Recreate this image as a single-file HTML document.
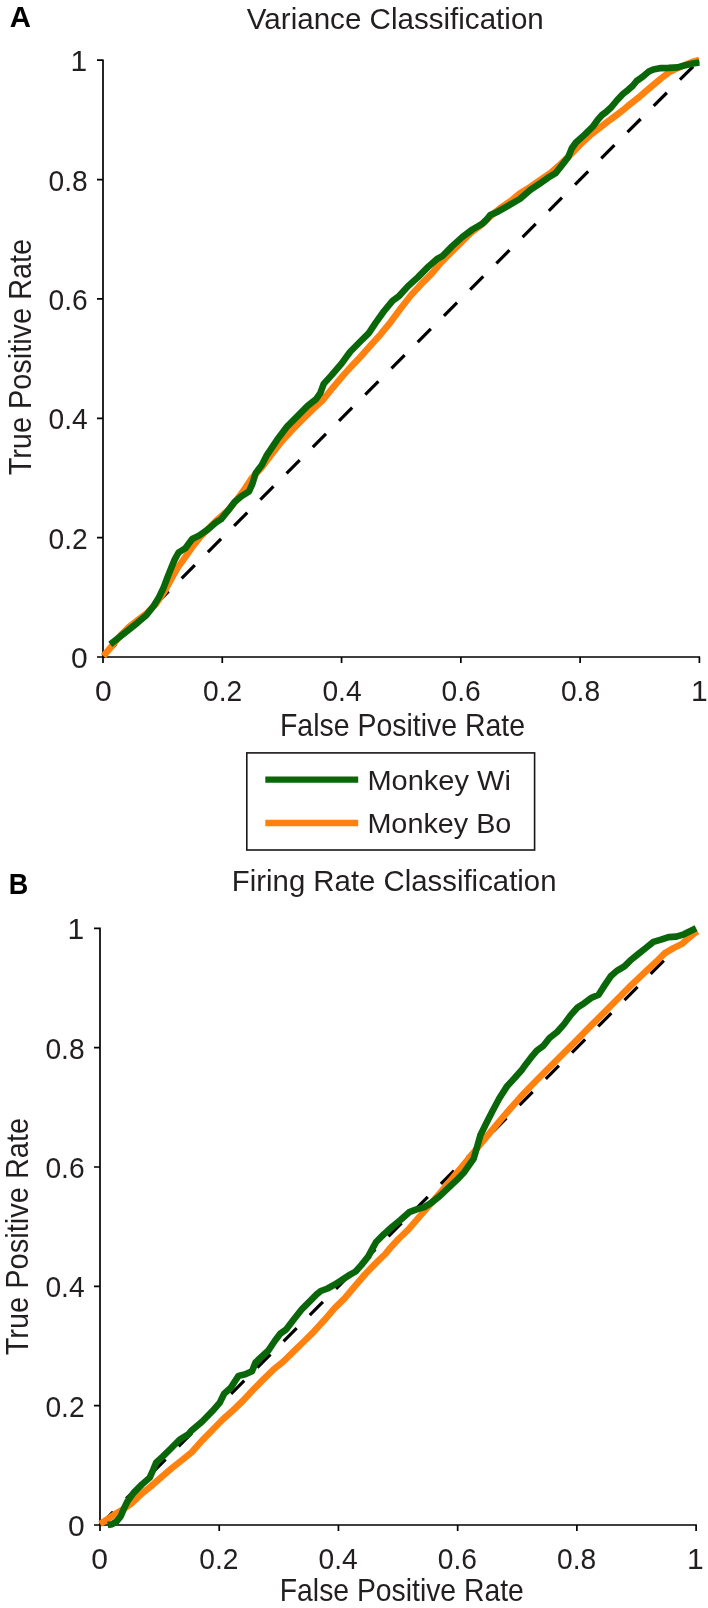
<!DOCTYPE html>
<html lang="en"><head><meta charset="utf-8"><title>ROC classification: variance vs firing rate</title>
<style>
html,body{margin:0;padding:0;background:#fff;}
body{width:708px;height:1608px;overflow:hidden;}
svg{display:block;will-change:transform;}
text{font-family:"Liberation Sans", "DejaVu Sans", sans-serif;fill:#231f20;}
.ax{stroke:#000;stroke-width:1.7;fill:none;}
.dash{stroke:#000;stroke-width:3.2;fill:none;stroke-dasharray:18.6 18.5;}
.g{stroke:#096709;stroke-width:6.6;fill:none;stroke-linejoin:round;stroke-linecap:butt;}
.o{stroke:#ff8210;stroke-width:6.6;fill:none;stroke-linejoin:round;stroke-linecap:butt;}
</style></head><body>
<svg width="708" height="1608" viewBox="0 0 708 1608">
<rect x="0" y="0" width="708" height="1608" fill="#fff"/>
<text x="9.7" y="26.6" font-size="29.3" font-weight="bold" style="fill:#000">A</text>
<text x="8.8" y="894.4" font-size="29.3" font-weight="bold" style="fill:#000" textLength="19.5" lengthAdjust="spacingAndGlyphs">B</text>
<text x="246.8" y="29.2" font-size="28.60" text-anchor="start" textLength="297.0" lengthAdjust="spacingAndGlyphs">Variance Classification</text>
<text x="231.8" y="891.3" font-size="28.60" text-anchor="start" textLength="324.7" lengthAdjust="spacingAndGlyphs">Firing Rate Classification</text>
<g>
<path class="dash" d="M103.00,657.00 L699.40,60.20"/>
<path class="ax" d="M103.00,59.45 L103.00,663.00 M97.00,657.00 L700.15,657.00 M222.28,657.00 L222.28,663.00 M97.00,537.64 L103.00,537.64 M341.56,657.00 L341.56,663.00 M97.00,418.28 L103.00,418.28 M460.84,657.00 L460.84,663.00 M97.00,298.92 L103.00,298.92 M580.12,657.00 L580.12,663.00 M97.00,179.56 L103.00,179.56 M699.40,657.00 L699.40,663.00 M97.00,60.20 L103.00,60.20"/>
<path class="o" d="M103.4,656.2 L112.6,645.1 L120.8,635.0 L128.9,627.0 L137.4,620.3 L146.3,613.5 L155.8,604.2 L164.5,591.4 L172.5,577.0 L177.0,568.6 L185.4,556.8 L193.9,544.9 L200.7,536.4 L215.9,521.0 L227.8,510.6 L236.3,500.4 L244.7,488.9 L251.5,478.6 L261.9,467.3 L272.0,453.8 L282.2,440.7 L292.4,429.7 L302.5,419.5 L312.7,409.3 L322.9,400.0 L333.1,387.3 L343.2,375.4 L350.2,367.6 L360.3,357.0 L370.5,345.5 L380.7,334.2 L390.8,321.8 L401.0,308.0 L411.2,295.0 L421.4,283.9 L431.7,273.6 L440.2,263.4 L450.3,253.2 L460.5,243.1 L470.7,232.9 L480.8,225.3 L491.0,215.9 L501.2,207.4 L511.4,200.6 L520.0,193.2 L530.2,187.0 L540.3,180.0 L550.5,172.9 L560.7,164.0 L570.8,154.4 L581.0,143.8 L591.2,134.3 L600.0,127.6 L607.6,121.7 L615.3,116.0 L622.9,110.2 L630.5,103.8 L638.1,97.9 L645.8,91.2 L653.4,84.9 L661.0,78.5 L668.6,72.7 L676.3,68.6 L683.9,65.5 L691.5,62.2 L699.3,60.0"/>
<path class="g" d="M110.3,644.3 L120.4,636.4 L128.9,629.6 L137.4,622.8 L146.3,615.2 L153.8,605.8 L158.9,597.4 L163.8,587.2 L167.6,577.0 L171.0,568.6 L174.4,560.2 L178.6,552.5 L185.4,548.3 L192.2,539.0 L199.0,535.6 L207.5,529.7 L215.9,522.5 L221.0,519.3 L227.8,510.9 L234.6,502.0 L241.4,496.3 L249.0,491.4 L252.4,483.9 L255.8,472.9 L261.7,465.3 L266.9,455.1 L277.1,439.8 L287.3,426.3 L297.5,416.1 L307.6,405.9 L316.1,399.2 L320.3,393.2 L323.7,383.9 L331.4,375.4 L341.5,363.6 L350.2,351.7 L360.3,341.5 L368.8,333.1 L375.6,322.9 L384.1,311.0 L392.5,300.8 L399.3,295.8 L407.8,286.4 L418.0,277.1 L428.1,266.9 L436.8,259.2 L442.7,255.8 L452.0,246.4 L462.2,237.1 L472.4,229.5 L482.5,223.6 L486.8,219.3 L490.2,215.1 L497.8,211.7 L508.0,205.8 L519.8,199.0 L530.2,190.0 L540.3,183.2 L548.8,177.3 L555.6,173.1 L562.4,164.6 L568.3,156.9 L571.7,148.5 L575.9,142.5 L584.4,134.9 L592.9,126.5 L598.0,119.5 L602.0,115.0 L606.1,112.0 L610.7,107.8 L616.8,100.5 L622.9,94.0 L628.2,89.8 L632.8,85.7 L636.6,81.0 L642.7,76.8 L648.8,71.6 L653.4,69.4 L661.0,68.1 L668.6,67.9 L677.8,67.4 L685.4,65.2 L693.0,63.5 L699.3,62.5"/>
<text x="103.4" y="700.6" font-size="30.00" text-anchor="middle">0</text>
<text x="87.7" y="668.0" font-size="30.00" text-anchor="end">0</text>
<text x="222.7" y="700.6" font-size="30.00" text-anchor="middle" textLength="39.2" lengthAdjust="spacingAndGlyphs">0.2</text>
<text x="87.7" y="548.6" font-size="30.00" text-anchor="end" textLength="39.2" lengthAdjust="spacingAndGlyphs">0.2</text>
<text x="342.0" y="700.6" font-size="30.00" text-anchor="middle" textLength="39.2" lengthAdjust="spacingAndGlyphs">0.4</text>
<text x="87.7" y="429.3" font-size="30.00" text-anchor="end" textLength="39.2" lengthAdjust="spacingAndGlyphs">0.4</text>
<text x="461.2" y="700.6" font-size="30.00" text-anchor="middle" textLength="39.2" lengthAdjust="spacingAndGlyphs">0.6</text>
<text x="87.7" y="309.9" font-size="30.00" text-anchor="end" textLength="39.2" lengthAdjust="spacingAndGlyphs">0.6</text>
<text x="580.5" y="700.6" font-size="30.00" text-anchor="middle" textLength="39.2" lengthAdjust="spacingAndGlyphs">0.8</text>
<text x="87.7" y="190.6" font-size="30.00" text-anchor="end" textLength="39.2" lengthAdjust="spacingAndGlyphs">0.8</text>
<text x="699.3" y="700.6" font-size="30.00" text-anchor="middle">1</text>
<text x="87.2" y="71.2" font-size="30.00" text-anchor="end">1</text>
<text transform="translate(31.0,357.1) rotate(-90)" font-size="32.00" text-anchor="middle" textLength="236.5" lengthAdjust="spacingAndGlyphs">True Positive Rate</text>
<text x="280.0" y="735.5" font-size="30.70" text-anchor="start" textLength="245.0" lengthAdjust="spacingAndGlyphs">False Positive Rate</text>
</g>
<g>
<path class="dash" d="M100.00,1525.00 L696.10,928.35"/>
<path class="ax" d="M100.00,927.60 L100.00,1531.00 M94.00,1525.00 L696.85,1525.00 M219.22,1525.00 L219.22,1531.00 M94.00,1405.67 L100.00,1405.67 M338.44,1525.00 L338.44,1531.00 M94.00,1286.34 L100.00,1286.34 M457.66,1525.00 L457.66,1531.00 M94.00,1167.01 L100.00,1167.01 M576.88,1525.00 L576.88,1531.00 M94.00,1047.68 L100.00,1047.68 M696.10,1525.00 L696.10,1531.00 M94.00,928.35 L100.00,928.35"/>
<path class="o" d="M100.0,1524.0 L106.9,1519.6 L115.4,1513.9 L123.9,1508.9 L132.4,1502.5 L140.8,1494.5 L151.0,1486.2 L161.2,1477.3 L171.4,1468.5 L181.5,1460.5 L191.7,1452.3 L202.0,1440.6 L212.2,1430.3 L222.4,1419.8 L232.5,1410.8 L242.7,1401.0 L252.9,1390.1 L263.1,1379.6 L273.2,1369.8 L283.4,1361.5 L293.7,1351.4 L303.9,1341.5 L314.1,1331.3 L324.2,1320.3 L334.4,1308.4 L344.6,1298.3 L354.7,1286.4 L364.9,1274.5 L375.1,1263.9 L385.3,1254.0 L389.7,1248.6 L399.0,1238.5 L408.5,1229.3 L419.3,1216.8 L428.0,1206.8 L437.5,1195.8 L447.5,1184.2 L457.0,1172.7 L467.0,1160.5 L474.0,1152.0 L480.0,1144.6 L490.0,1132.6 L500.0,1120.7 L510.0,1109.0 L520.0,1097.6 L530.0,1087.0 L545.0,1071.8 L560.0,1056.8 L575.0,1041.8 L590.0,1026.7 L605.0,1011.6 L620.0,996.5 L631.0,985.4 L645.0,972.1 L657.0,961.0 L664.9,953.2 L673.4,948.1 L681.9,943.9 L687.8,938.8 L693.8,933.7 L697.4,931.2"/>
<path class="g" d="M107.6,1525.1 L112.1,1524.2 L116.6,1521.4 L120.6,1516.5 L123.6,1509.4 L127.4,1501.4 L133.6,1492.9 L142.0,1484.4 L149.7,1477.6 L153.1,1470.0 L156.3,1462.4 L162.9,1456.4 L171.4,1448.0 L179.8,1439.5 L188.3,1434.4 L191.9,1430.2 L202.0,1421.7 L212.2,1411.3 L219.8,1402.6 L224.1,1393.7 L230.8,1387.8 L235.1,1381.0 L238.5,1375.9 L245.3,1374.3 L252.0,1371.2 L255.4,1362.7 L259.7,1358.4 L268.1,1350.8 L275.1,1340.5 L280.2,1333.7 L286.1,1329.5 L293.7,1319.6 L302.2,1308.8 L310.7,1300.3 L316.6,1294.4 L320.8,1291.0 L327.6,1288.5 L335.3,1284.2 L342.9,1279.2 L349.7,1274.9 L355.6,1271.5 L361.5,1264.9 L368.3,1256.4 L371.9,1249.6 L376.1,1242.0 L383.7,1234.4 L392.2,1226.7 L400.7,1219.8 L409.2,1212.2 L415.9,1209.7 L424.4,1207.1 L431.2,1202.9 L439.7,1196.1 L448.1,1188.1 L456.6,1180.2 L464.4,1171.9 L473.7,1158.6 L477.1,1146.8 L480.5,1134.9 L486.4,1123.1 L492.4,1111.2 L499.2,1098.5 L506.8,1086.6 L515.3,1077.3 L522.0,1069.7 L526.3,1063.7 L532.2,1056.1 L536.8,1050.7 L543.6,1045.6 L549.5,1038.0 L557.1,1032.0 L563.9,1024.4 L570.7,1015.1 L577.5,1007.5 L584.2,1003.2 L591.0,998.1 L598.6,994.7 L604.6,985.4 L610.7,976.3 L616.8,970.9 L624.4,966.4 L630.5,960.3 L638.1,954.1 L645.8,948.0 L653.4,941.9 L661.0,939.7 L668.6,937.1 L676.3,936.6 L683.9,934.3 L691.5,930.5 L696.1,928.2"/>
<text x="99.7" y="1568.6" font-size="30.00" text-anchor="middle">0</text>
<text x="84.6" y="1536.0" font-size="30.00" text-anchor="end">0</text>
<text x="218.9" y="1568.6" font-size="30.00" text-anchor="middle" textLength="39.2" lengthAdjust="spacingAndGlyphs">0.2</text>
<text x="84.6" y="1416.7" font-size="30.00" text-anchor="end" textLength="39.2" lengthAdjust="spacingAndGlyphs">0.2</text>
<text x="338.1" y="1568.6" font-size="30.00" text-anchor="middle" textLength="39.2" lengthAdjust="spacingAndGlyphs">0.4</text>
<text x="84.6" y="1297.3" font-size="30.00" text-anchor="end" textLength="39.2" lengthAdjust="spacingAndGlyphs">0.4</text>
<text x="457.4" y="1568.6" font-size="30.00" text-anchor="middle" textLength="39.2" lengthAdjust="spacingAndGlyphs">0.6</text>
<text x="84.6" y="1178.0" font-size="30.00" text-anchor="end" textLength="39.2" lengthAdjust="spacingAndGlyphs">0.6</text>
<text x="576.6" y="1568.6" font-size="30.00" text-anchor="middle" textLength="39.2" lengthAdjust="spacingAndGlyphs">0.8</text>
<text x="84.6" y="1058.7" font-size="30.00" text-anchor="end" textLength="39.2" lengthAdjust="spacingAndGlyphs">0.8</text>
<text x="695.3" y="1568.6" font-size="30.00" text-anchor="middle">1</text>
<text x="84.1" y="939.4" font-size="30.00" text-anchor="end">1</text>
<text transform="translate(27.8,1236.6) rotate(-90)" font-size="32.00" text-anchor="middle" textLength="237.5" lengthAdjust="spacingAndGlyphs">True Positive Rate</text>
<text x="279.8" y="1600.6" font-size="30.70" text-anchor="start" textLength="244.0" lengthAdjust="spacingAndGlyphs">False Positive Rate</text>
</g>
<rect x="246.8" y="752.9" width="287.8" height="97.1" fill="#fff" stroke="#1a1617" stroke-width="1.6"/>
<path d="M265.3,779.7 L358.2,779.7" stroke="#096709" stroke-width="6.3" fill="none"/>
<path d="M265.3,823.0 L358.2,823.0" stroke="#ff8210" stroke-width="6.3" fill="none"/>
<text x="367.4" y="790.2" font-size="28.40" text-anchor="start" textLength="143.5" lengthAdjust="spacingAndGlyphs">Monkey Wi</text>
<text x="367.4" y="833.3" font-size="28.40" text-anchor="start" textLength="144.0" lengthAdjust="spacingAndGlyphs">Monkey Bo</text>
</svg>
</body></html>
